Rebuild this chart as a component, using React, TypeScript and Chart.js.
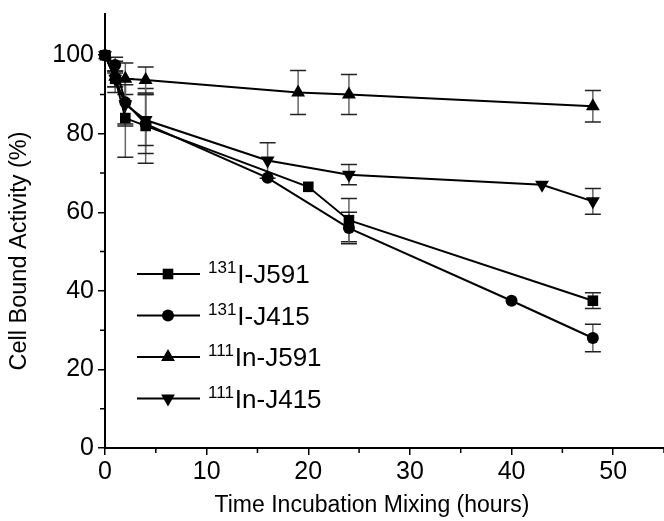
import React, { useEffect, useRef } from "react";
import { Chart, registerables } from "chart.js";

Chart.register(...registerables);

// ---- Data ----
const timesI591 = [0, 1, 2, 4, 20, 24, 48];
const valuesI591 = [100, 94, 84, 82, 66.5, 58, 37.5];
const errorsI591 = [0, 2, 10, 9.5, 0, 5.5, 2];

const timesI415 = [0, 1, 2, 4, 16, 24, 40, 48];
const valuesI415 = [100, 97.5, 88, 82.5, 68.8, 56, 37.5, 28];
const errorsI415 = [0, 2, 6, 7.5, 0, 4, 0, 3.5];

const timesIn591 = [0, 1, 2, 4, 19, 24, 48];
const valuesIn591 = [100, 94.5, 94, 93.7, 90.5, 90, 87];
const errorsIn591 = [0, 4, 4, 3.3, 5.6, 5.1, 4];

const timesIn415 = [0, 1, 2, 4, 16, 24, 43, 48];
const valuesIn415 = [100, 94, 87.5, 83.5, 73.2, 69.6, 67, 62.8];
const errorsIn415 = [0, 2, 5, 6.5, 4.5, 2.6, 0, 3.3];

const seriesIsotopes = ["131", "131", "111", "111"];
const seriesNames = ["I-J591", "I-J415", "In-J591", "In-J415"];

const xMajorTicks = [0, 10, 20, 30, 40, 50];
const xMinorTicks = [5, 15, 25, 35, 45, 55];
const yMajorTicks = [0, 20, 40, 60, 80, 100];
const yMinorTicks = [10, 30, 50, 70, 90];

const xTitle = "Time Incubation Mixing (hours)";
const yTitle = "Cell Bound Activity (%)";

const FONT = "'Liberation Sans', Arial, Helvetica, sans-serif";

type Style = { shape: string; radius: number; rotation: number };
const styles: Style[] = [
  { shape: "rect", radius: 7.5, rotation: 0 },
  { shape: "circle", radius: 6, rotation: 0 },
  { shape: "triangle", radius: 8, rotation: 0 },
  { shape: "triangle", radius: 8, rotation: 180 },
];

const allTimes = [timesI591, timesI415, timesIn591, timesIn415];
const allValues = [valuesI591, valuesI415, valuesIn591, valuesIn415];
const allErrors = [errorsI591, errorsI415, errorsIn591, errorsIn415];

function drawMarker(ctx: CanvasRenderingContext2D, st: Style, x: number, y: number) {
  ctx.save();
  ctx.fillStyle = "#000";
  ctx.beginPath();
  if (st.shape === "rect") {
    const s = Math.SQRT1_2 * st.radius;
    ctx.rect(x - s, y - s, 2 * s, 2 * s);
  } else if (st.shape === "circle") {
    ctx.arc(x, y, st.radius, 0, Math.PI * 2);
  } else {
    const r = st.radius;
    const dir = st.rotation === 180 ? -1 : 1;
    ctx.moveTo(x, y - dir * r);
    ctx.lineTo(x - r * Math.sin(Math.PI / 3), y + dir * r * 0.5);
    ctx.lineTo(x + r * Math.sin(Math.PI / 3), y + dir * r * 0.5);
    ctx.closePath();
  }
  ctx.fill();
  ctx.restore();
}

const customPlugin = {
  id: "customDecor",
  beforeDatasetsDraw(chart: any) {
    const ctx: CanvasRenderingContext2D = chart.ctx;
    const xs = chart.scales.x;
    const ys = chart.scales.y;
    ctx.save();
    for (let i = 0; i < allTimes.length; i++) {
      for (let j = 0; j < allTimes[i].length; j++) {
        const e = allErrors[i][j];
        if (!e) continue;
        const px = xs.getPixelForValue(allTimes[i][j]);
        const top = ys.getPixelForValue(allValues[i][j] + e);
        const bot = ys.getPixelForValue(allValues[i][j] - e);
        ctx.strokeStyle = "#666";
        ctx.lineWidth = 1.5;
        ctx.beginPath();
        ctx.moveTo(px, top);
        ctx.lineTo(px, bot);
        ctx.stroke();
        ctx.strokeStyle = "#222";
        ctx.lineWidth = 1.5;
        ctx.beginPath();
        ctx.moveTo(px - 8, top);
        ctx.lineTo(px + 8, top);
        ctx.moveTo(px - 8, bot);
        ctx.lineTo(px + 8, bot);
        ctx.stroke();
      }
    }
    ctx.restore();
  },
  afterDraw(chart: any) {
    const ctx: CanvasRenderingContext2D = chart.ctx;
    const xs = chart.scales.x;
    const ys = chart.scales.y;
    const area = chart.chartArea;
    ctx.save();
    // minor ticks
    ctx.strokeStyle = "#000";
    ctx.lineWidth = 1.5;
    ctx.beginPath();
    for (const v of xMinorTicks) {
      const px = xs.getPixelForValue(v);
      ctx.moveTo(px, area.bottom);
      ctx.lineTo(px, area.bottom + 5);
    }
    for (const v of yMinorTicks) {
      const py = ys.getPixelForValue(v);
      ctx.moveTo(area.left - 5, py);
      ctx.lineTo(area.left, py);
    }
    ctx.stroke();

    // legend
    const rowY = [274, 315.5, 357, 398.5];
    for (let i = 0; i < 4; i++) {
      const y = rowY[i];
      ctx.strokeStyle = "#000";
      ctx.lineWidth = 2;
      ctx.beginPath();
      ctx.moveTo(137, y);
      ctx.lineTo(200, y);
      ctx.stroke();
      drawMarker(ctx, styles[i], 168, y);
      ctx.fillStyle = "#000";
      ctx.textAlign = "left";
      ctx.textBaseline = "alphabetic";
      ctx.font = `17px ${FONT}`;
      ctx.fillText(seriesIsotopes[i], 208, y - 1);
      const w = ctx.measureText(seriesIsotopes[i]).width;
      ctx.font = `26px ${FONT}`;
      ctx.fillText(seriesNames[i], 208 + w + 1, y + 9);
    }

    // axis titles
    ctx.fillStyle = "#000";
    ctx.textAlign = "center";
    ctx.textBaseline = "middle";
    ctx.font = `23px ${FONT}`;
    ctx.fillText(xTitle, 372, 506);
    ctx.save();
    ctx.translate(20, 251);
    ctx.rotate(-Math.PI / 2);
    ctx.font = `23.5px ${FONT}`;
    ctx.fillText(yTitle, 0, 0);
    ctx.restore();
    ctx.restore();
  },
};

export default function App() {
  const canvasRef = useRef<HTMLCanvasElement | null>(null);

  useEffect(() => {
    document.body.style.margin = "0";
    const canvas = canvasRef.current;
    if (!canvas) return;
    const datasets = allTimes.map((times, i) => ({
      label: seriesIsotopes[i] + seriesNames[i],
      data: times.map((t, j) => ({ x: t, y: allValues[i][j] })),
      showLine: true,
      borderColor: "#000",
      borderWidth: 2,
      backgroundColor: "#000",
      pointStyle: styles[i].shape,
      pointRadius: styles[i].radius,
      pointRotation: styles[i].rotation,
      pointBorderWidth: 0,
      pointBackgroundColor: "#000",
      pointHoverRadius: styles[i].radius,
      clip: false as any,
    }));
    const tickFont = { family: FONT, size: 25 };
    const chart = new Chart(canvas, {
      type: "scatter",
      data: { datasets: datasets as any },
      options: {
        responsive: false,
        animation: false,
        devicePixelRatio: 1,
        layout: { autoPadding: false, padding: { top: 14, right: 0, bottom: 0, left: 0 } },
        plugins: {
          legend: { display: false },
          tooltip: { enabled: false },
        },
        scales: {
          x: {
            type: "linear",
            min: 0,
            max: 55,
            afterBuildTicks: (s: any) => {
              s.ticks = xMajorTicks.map((v) => ({ value: v }));
            },
            afterFit: (s: any) => {
              s.height = 73;
              s.paddingRight = 0;
              s.paddingLeft = 0;
            },
            ticks: {
              color: "#000",
              font: tickFont,
              padding: 2,
              maxRotation: 0,
              autoSkip: false,
            },
            grid: {
              drawOnChartArea: false,
              drawTicks: true,
              tickLength: 7,
              color: "#000",
              lineWidth: 1.5,
            },
            border: { display: true, color: "#000", width: 2 },
          },
          y: {
            type: "linear",
            min: 0,
            max: 110.5,
            afterBuildTicks: (s: any) => {
              s.ticks = yMajorTicks.map((v) => ({ value: v }));
            },
            afterFit: (s: any) => {
              s.width = 105;
              s.paddingTop = 0;
              s.paddingBottom = 0;
            },
            ticks: {
              color: "#000",
              font: tickFont,
              padding: 4,
              autoSkip: false,
            },
            grid: {
              drawOnChartArea: false,
              drawTicks: true,
              tickLength: 7,
              color: "#000",
              lineWidth: 1.5,
            },
            border: { display: true, color: "#000", width: 2 },
          },
        },
      } as any,
      plugins: [customPlugin],
    });
    return () => chart.destroy();
  }, []);

  return (
    <div style={{ width: 664, height: 521, background: "#fff" }}>
      <canvas ref={canvasRef} width={664} height={521} style={{ display: "block" }} />
    </div>
  );
}
